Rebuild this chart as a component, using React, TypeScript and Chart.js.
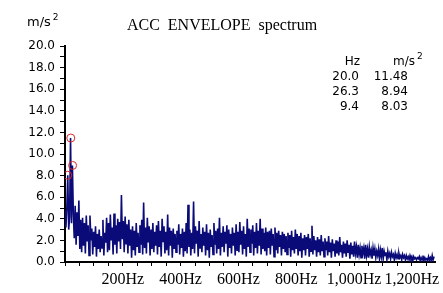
import React, { useEffect, useRef } from 'react';
import { Chart, registerables } from 'chart.js';

Chart.register(...registerables);

// Frequency resolution of the spectrum (Hz between successive lines)
const FREQ_STEP = 3.2;

// Envelope acceleration amplitudes (m/s²), one value per spectral line, starting at 0 Hz
const AMPLITUDES = [
  4.8, 3.2, 5.1, 8.03, 3.0, 4.2, 11.48, 3.6, 8.94, 4.5, 2.2, 5.2, 1.6, 4.6, 2.4, 5.7, 1.2, 3.9, 0.9, 4.1,
  1.5, 3.6, 0.8, 4.3, 1.9, 3.4, 0.6, 4.3, 2.0, 3.1, 0.7, 2.8, 1.4, 3.3, 0.5, 2.6, 1.2, 3.0, 0.9, 2.4,
  1.3, 3.9, 0.6, 2.7, 1.8, 4.1, 0.9, 3.6, 1.1, 4.4, 2.0, 3.2, 0.7, 4.5, 1.6, 3.4, 0.8, 4.0, 1.9, 3.7,
  1.2, 6.2, 2.1, 3.8, 0.9, 4.2, 1.7, 3.5, 0.8, 3.9, 1.5, 3.0, 0.4, 3.3, 1.1, 2.9, 0.6, 3.6, 1.4, 2.7,
  0.9, 3.4, 1.6, 3.9, 0.7, 5.5, 1.3, 3.2, 0.8, 4.1, 1.8, 3.3, 0.6, 3.0, 1.2, 3.6, 0.9, 2.8, 1.5, 3.4,
  0.7, 3.8, 1.4, 2.9, 0.5, 4.0, 1.9, 3.3, 0.8, 2.8, 1.1, 4.4, 0.6, 3.2, 1.5, 2.9, 0.4, 3.1, 1.2, 2.6,
  0.9, 2.9, 1.6, 3.5, 0.7, 2.6, 1.3, 3.1, 0.5, 2.8, 1.0, 3.6, 0.8, 5.3, 1.4, 3.0, 0.6, 2.7, 1.2, 5.6,
  0.8, 3.3, 1.7, 2.9, 0.5, 3.8, 1.3, 2.6, 0.9, 3.2, 1.5, 2.8, 0.6, 3.5, 1.1, 2.7, 0.4, 3.0, 1.4, 2.5,
  0.7, 3.6, 1.6, 2.9, 0.8, 3.1, 1.2, 4.1, 0.6, 2.7, 1.4, 3.3, 0.9, 2.8, 1.7, 3.4, 0.5, 3.0, 1.3, 2.6,
  0.8, 3.2, 1.5, 2.7, 0.6, 3.5, 1.1, 2.8, 0.9, 3.7, 1.6, 2.9, 0.7, 3.3, 1.2, 2.6, 0.5, 4.0, 1.4, 3.1,
  0.9, 3.0, 1.7, 3.4, 0.6, 2.8, 1.3, 3.6, 0.8, 2.9, 1.5, 4.0, 0.7, 3.1, 1.2, 2.7, 1.0, 3.2, 0.6, 2.8,
  1.3, 2.9, 0.7, 3.1, 1.5, 2.6, 0.5, 3.2, 1.1, 2.7, 0.8, 2.9, 1.4, 2.5, 0.6, 2.8, 1.2, 2.6, 0.9, 2.4,
  0.7, 2.7, 1.3, 2.5, 0.5, 2.9, 1.1, 2.3, 0.8, 3.0, 1.2, 2.6, 0.6, 2.4, 1.0, 2.7, 0.4, 2.2, 1.1, 2.5,
  0.6, 2.3, 1.2, 2.6, 0.5, 2.2, 1.0, 3.35, 0.7, 2.4, 1.1, 2.0, 0.5, 2.3, 0.9, 2.1, 0.6, 2.5, 1.0, 1.9,
  0.5, 2.2, 1.1, 1.9, 0.6, 2.4, 0.9, 1.8, 0.4, 2.1, 1.0, 1.7, 0.5, 2.0, 0.8, 1.9, 0.6, 2.3, 0.9, 1.6,
  0.4, 1.9, 0.8, 1.7, 0.5, 2.0, 0.9, 1.6, 0.3, 1.8, 0.7, 1.5, 0.5, 1.9, 0.8, 1.4, 0.4, 1.6, 0.7, 1.3,
  0.4, 1.5, 0.8, 1.3, 0.3, 1.6, 0.6, 1.2, 0.4, 1.4, 0.7, 1.1, 0.3, 1.3, 0.6, 1.2, 0.4, 1.0, 0.6, 1.2,
  0.3, 1.1, 0.5, 1.3, 0.3, 1.0, 0.6, 0.9, 0.2, 1.0, 0.5, 0.8, 0.3, 0.9, 0.5, 0.7, 0.2, 0.8, 0.4, 0.7,
  0.3, 0.8, 0.4, 0.6, 0.2, 0.7, 0.4, 0.6, 0.2, 0.6, 0.3, 0.5, 0.2, 0.6, 0.3, 0.5, 0.1, 0.5, 0.3, 0.4,
  0.2, 0.4, 0.3, 0.5, 0.1, 0.4, 0.2, 0.6, 0.1, 0.4, 0.2, 0.3, 0.1, 0.5, 0.2, 0.4, 0.1, 0.6, 0.2, 0.5,
];

// Marked peaks (shown as red circles and in the table)
const PEAK_FREQS = [20.0, 26.3, 9.4];
const PEAK_AMPS = [11.48, 8.94, 8.03];

const TITLE = 'ACC  ENVELOPE  spectrum';
const UNIT_BASE = 'm/s';
const UNIT_SUP = '2';
const TABLE_HEAD_FREQ = 'Hz';

const SANS = '"DejaVu Sans", sans-serif';
const SERIF = '"Liberation Serif", serif';

function drawSup(ctx: CanvasRenderingContext2D, base: string, sup: string, xLeft: number, y: number, size: number) {
  ctx.textAlign = 'left';
  ctx.font = `${size}px ${SANS}`;
  const wb = ctx.measureText(base).width;
  ctx.fillText(base, xLeft, y);
  ctx.font = `${Math.round(size * 0.72)}px ${SANS}`;
  ctx.fillText(sup, xLeft + wb + 2, y - size * 0.42);
}

const textPlugin = {
  id: 'spectrumTexts',
  afterDraw(chart: any) {
    const ctx: CanvasRenderingContext2D = chart.ctx;
    ctx.save();
    ctx.fillStyle = '#000';
    ctx.textBaseline = 'middle';

    // y unit
    drawSup(ctx, UNIT_BASE, UNIT_SUP, 27, 23, 13);

    // title
    ctx.font = `16px ${SERIF}`;
    ctx.textAlign = 'center';
    ctx.fillText(TITLE, 222, 26);

    // peak table
    const rowH = 14.8;
    const headY = 62;
    ctx.font = `12px ${SANS}`;
    ctx.textAlign = 'right';
    ctx.fillText(TABLE_HEAD_FREQ, 360, headY);
    const wm = ctx.measureText(UNIT_BASE).width;
    drawSup(ctx, UNIT_BASE, UNIT_SUP, 415 - wm, headY, 12);
    ctx.font = `12px ${SANS}`;
    ctx.textAlign = 'right';
    for (let i = 0; i < PEAK_FREQS.length; i++) {
      const y = headY + rowH * (i + 1);
      ctx.fillText(PEAK_FREQS[i].toFixed(1), 359, y);
      ctx.fillText(PEAK_AMPS[i].toFixed(2), 408, y);
    }
    ctx.restore();
  },
};

export default function App() {
  const ref = useRef<HTMLCanvasElement>(null);

  useEffect(() => {
    const prevMargin = document.body.style.margin;
    document.body.style.margin = '0';
    const canvas = ref.current!;
    const chart = new Chart(canvas, {
      type: 'line',
      data: {
        datasets: [
          {
            type: 'scatter',
            data: PEAK_FREQS.map((f, i) => ({ x: f, y: PEAK_AMPS[i] })),
            borderColor: '#d82a2a',
            backgroundColor: 'rgba(0,0,0,0)',
            pointRadius: 4,
            pointBorderWidth: 1,
            showLine: false,
          } as any,
          {
            type: 'line',
            data: AMPLITUDES.map((a, i) => ({ x: i * FREQ_STEP, y: a })),
            borderColor: '#0a0a78',
            borderWidth: 1.6,
            pointRadius: 0,
            tension: 0,
            fill: false,
          },
        ],
      },
      options: {
        responsive: false,
        animation: false,
        events: [],
        layout: { padding: { left: 0, top: 46, right: 8, bottom: 0 } },
        plugins: { legend: { display: false }, tooltip: { enabled: false }, title: { display: false } },
        scales: {
          x: {
            type: 'linear',
            min: 0,
            max: 1280,
            border: { color: '#000', width: 2 },
            grid: { drawOnChartArea: false, color: '#000', tickColor: '#000', tickLength: 4 },
            ticks: {
              stepSize: 50,
              includeBounds: false,
              autoSkip: false,
              maxRotation: 0,
              padding: 4,
              color: '#000',
              font: { family: 'Liberation Serif', size: 16 },
              callback: (v: any) => {
                const n = Number(v);
                return n > 0 && n % 200 === 0 ? n.toLocaleString('en-US') + 'Hz' : '';
              },
            },
            afterFit: (s: any) => { s.height = 31; },
          },
          y: {
            type: 'linear',
            min: 0,
            max: 20,
            border: { color: '#000', width: 2 },
            grid: { drawOnChartArea: false, color: '#000', tickColor: '#000', tickLength: 5 },
            ticks: {
              stepSize: 1,
              autoSkip: false,
              padding: 5,
              color: '#000',
              font: { family: 'DejaVu Sans', size: 12 },
              callback: (v: any) => {
                const n = Number(v);
                return n % 2 === 0 ? n.toFixed(1) : '';
              },
            },
            afterFit: (s: any) => { s.width = 65; },
          },
        },
      },
      plugins: [textPlugin],
    });
    return () => {
      chart.destroy();
      document.body.style.margin = prevMargin;
    };
  }, []);

  return (
    <div style={{ position: 'fixed', left: 0, top: 0, width: 443, height: 293, background: '#fff' }}>
      <canvas ref={ref} width={443} height={293} style={{ width: 443, height: 293, display: 'block' }} />
    </div>
  );
}
